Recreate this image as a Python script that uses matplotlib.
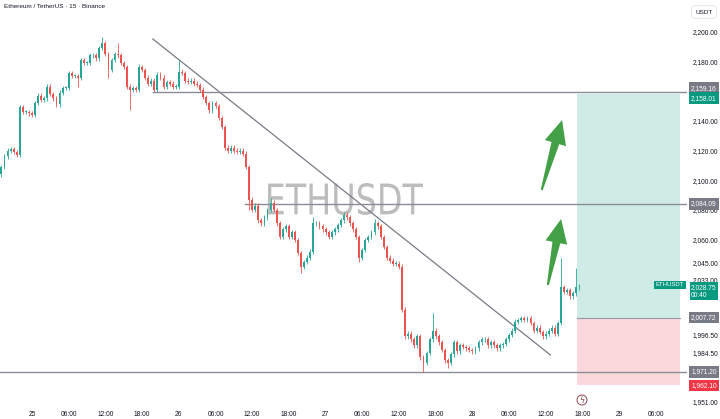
import numpy as np
import pandas as pd
import matplotlib
matplotlib.use("Agg")
import matplotlib.pyplot as plt
import matplotlib.dates as mdates
from matplotlib.patches import Polygon, Rectangle, PathPatch, Circle
from matplotlib.textpath import TextPath
from matplotlib.font_manager import FontProperties
from matplotlib.transforms import Affine2D, IdentityTransform, blended_transform_factory

# 30 minute closes (ETHUSDT)
closes = [
    2109, 2116, 2120, 2121, 2119, 2117, 2149, 2146, 2146, 2145,
    2144, 2152, 2157, 2154, 2155, 2163, 2158, 2155, 2151, 2159,
    2162, 2162, 2172, 2170, 2170, 2169, 2181, 2179, 2179, 2184,
    2184, 2182, 2189, 2192, 2185, 2174, 2181, 2185, 2184, 2179,
    2176, 2163, 2161, 2162, 2161, 2176, 2174, 2169, 2165, 2167,
    2161, 2171, 2169, 2163, 2166, 2165, 2163, 2163, 2173, 2172,
    2167, 2166, 2167, 2165, 2164, 2161,
    2156, 2152, 2147, 2152, 2150, 2142, 2136, 2122, 2120, 2122,
    2120, 2119, 2120, 2118, 2109, 2087, 2080, 2083, 2073, 2071,
    2075, 2080, 2085, 2080, 2071, 2062, 2067, 2069, 2062, 2065,
    2060, 2051, 2042, 2045, 2048, 2052, 2071, 2071, 2069, 2067,
    2065, 2062, 2065, 2067, 2070, 2073, 2077, 2075, 2071, 2067,
    2062, 2048, 2053, 2060, 2062, 2065, 2071, 2069, 2062, 2055,
    2048, 2046, 2044, 2044, 2042,
    2013, 1995, 1997, 1993, 1989, 1995, 1981, 1977, 1984, 1993,
    1999, 1995, 1991, 1986, 1979, 1977, 1983, 1991, 1985, 1989,
    1988, 1987, 1986, 1985, 1987, 1991, 1993, 1993, 1989, 1991,
    1989, 1987, 1989, 1990, 1993, 1996, 1999, 2005, 2006, 2007.5,
    2006, 2007.5, 2004, 1999, 2001, 1998, 1995, 1997, 1999, 2001,
    1997, 2004, 2028, 2025, 2026, 2022, 2024, 2028, 2028.75,
]
first_open = 2104
start = pd.Timestamp("2023-11-24 19:00")

wick_high = {
    "2023-11-25 11:30": 2196, "2023-11-25 14:00": 2192, "2023-11-25 17:30": 2178,
    "2023-11-26 00:00": 2181, "2023-11-26 15:00": 2088, "2023-11-26 22:00": 2075,
    "2023-11-27 03:00": 2079, "2023-11-27 08:00": 2074, "2023-11-27 17:30": 2011,
    "2023-11-28 14:30": 2048, "2023-11-28 17:00": 2041,
}
wick_low = {
    "2023-11-25 07:30": 2163, "2023-11-25 12:30": 2169, "2023-11-25 16:00": 2147,
    "2023-11-26 11:30": 2080, "2023-11-26 20:00": 2038, "2023-11-27 05:30": 2045,
    "2023-11-27 16:00": 1971.2, "2023-11-27 20:00": 1974,
}

# drawings
trend_start = ("2023-11-25 19:45", 2195.0)
trend_end = ("2023-11-28 12:45", 1982.6)
levels = [("2023-11-25 19:45", 2159.16), ("2023-11-26 10:50", 2084.09), ("2023-11-24 18:00", 1971.20)]
pos_start, pos_end = "2023-11-28 17:05", "2023-11-29 10:00"
entry, take_profit, stop_loss = 2007.72, 2158.01, 1962.10
last_price = 2028.75
arrows = [(("2023-11-28 11:20", 2093.5), ("2023-11-28 14:40", 2140.5)),
          (("2023-11-28 12:20", 2029.6), ("2023-11-28 14:30", 2074.0))]

ytick_vals = [2200, 2180, 2140, 2120, 2100, 2080, 2060, 2045, 2033, 1996.5, 1984.5, 1951]
xtick_times = pd.date_range("2023-11-25", "2023-11-29 06:00", freq="6h")
xtick_labels = [t.strftime("%d").lstrip("0") if t.hour == 0 else t.strftime("%H:%M") for t in xtick_times]

UP, DOWN, GREY = "#26a69a", "#ef5350", "#787b86"
plt.rcParams["font.family"] = ["Liberation Sans", "DejaVu Sans"]

fig = plt.figure(figsize=(7.2, 4.19), dpi=100)
ax = fig.add_axes([0, 12 / 419, 687 / 720, 407 / 419])
for s in ax.spines.values():
    s.set_visible(False)

day0 = mdates.date2num(pd.Timestamp("2023-11-25"))
ax.set_xlim(day0 - 32 / 146.8, day0 + 655 / 146.8)
ax.set_ylim(1947.6, 2221.2)

# candles
times = pd.date_range(start, periods=len(closes), freq="30min")
x = mdates.date2num(times)
opens = [first_open] + closes[:-1]
for xi, t, o, c in zip(x, times, opens, closes):
    key = t.strftime("%Y-%m-%d %H:%M")
    col = UP if c >= o else DOWN
    hi = wick_high.get(key, max(o, c) + 1.5)
    lo = wick_low.get(key, min(o, c) - 1.5)
    ax.vlines(xi, lo, hi, color=col, lw=0.6, zorder=3)
    ax.bar(xi, max(abs(c - o), 0.5), bottom=min(o, c), width=0.6 / 48, color=col, lw=0, zorder=3)

# watermark
tp = TextPath((0, 0), "ETHUSDT", size=100, prop=FontProperties(family="DejaVu Sans"))
bb = tp.get_extents()
tr = Affine2D().translate(-bb.x0, -bb.y0).scale(155 / bb.width, 32 / bb.height).translate(268, 204)
ax.add_patch(PathPatch(tr.transform_path(tp), transform=IdentityTransform(), fc="#bdbdbd", lw=0, zorder=0.5))

# long position box
p0, p1 = mdates.date2num(pd.Timestamp(pos_start)), mdates.date2num(pd.Timestamp(pos_end))
ax.add_patch(Rectangle((p0, entry), p1 - p0, take_profit - entry, fc="#cfebe5", lw=0, zorder=1))
ax.add_patch(Rectangle((p0, stop_loss), p1 - p0, entry - stop_loss, fc="#fbd8db", lw=0, zorder=1))
ax.plot([p0, p1], [entry, entry], color="#9598a1", lw=0.8, zorder=2)

# trendline and levels
ax.plot(mdates.date2num([pd.Timestamp(trend_start[0]), pd.Timestamp(trend_end[0])]),
        [trend_start[1], trend_end[1]], color=GREY, lw=0.9, zorder=2)
for t0, lvl in levels:
    ax.plot([mdates.date2num(pd.Timestamp(t0)), ax.get_xlim()[1]], [lvl, lvl], color="#8a8d96", lw=1.0, zorder=2)

# green arrows
def draw_arrow(tail, tip):
    a = ax.transData.transform((mdates.date2num(pd.Timestamp(tail[0])), tail[1]))
    b = ax.transData.transform((mdates.date2num(pd.Timestamp(tip[0])), tip[1]))
    d = b - a
    u = d / np.hypot(*d)
    n = np.array([-u[1], u[0]])
    base = b - u * 24
    pts = [a + n * 1, base + n * 4, base + n * 11, b, base - n * 11, base - n * 4, a - n * 1]
    ax.add_patch(Polygon(pts, closed=True, transform=IdentityTransform(), fc="#43a047", lw=0, zorder=6))

for tail, tip in arrows:
    draw_arrow(tail, tip)

# axes ticks
ax.set_xticks(mdates.date2num(xtick_times))
ax.set_xticklabels(xtick_labels)
ax.tick_params(axis="x", length=0, pad=3, labelsize=4.8, labelcolor="#131722")
ax.yaxis.tick_right()
ax.set_yticks(ytick_vals)
ax.set_yticklabels([f"{v:,.2f}" for v in ytick_vals])
ax.tick_params(axis="y", length=0, pad=4, labelsize=4.8, labelcolor="#131722")

# price badges
btr = blended_transform_factory(ax.transAxes, ax.transData)
def badge(text, price, color, dy=0, pad=0.35):
    ax.annotate(text, xy=(1, price), xycoords=btr, xytext=(3, dy), textcoords="offset points",
                ha="left", va="center", fontsize=4.8, color="white", zorder=8, annotation_clip=False,
                linespacing=1.15, bbox=dict(boxstyle=f"square,pad={pad}", fc=color, ec="none"))

badge("2,159.16", 2159.16, "#787b86", dy=3)
badge("2,158.01", take_profit, "#089981", dy=-3)
badge("2,084.09", 2084.09, "#787b86")
badge("2,028.75\n00:40", last_price, "#089981", dy=-3.5, pad=0.25)
badge("2,007.72", entry, "#787b86")
badge("1,971.20", 1971.20, "#787b86")
badge("1,962.10", stop_loss, "#f23645")
ax.annotate("ETHUSDT", xy=(1, last_price), xycoords=btr, xytext=(-2, 1), textcoords="offset points",
            ha="right", va="center", fontsize=4.3, color="white", zorder=8,
            bbox=dict(boxstyle="square,pad=0.3", fc="#089981", ec="none"))

# event marker
ax.add_patch(Circle((582, 19), 5, transform=IdentityTransform(), fc="white", ec="#8a4b4f", lw=0.7, zorder=7))
fig.text(582 / 720, 19 / 419, "ϟ", ha="center", va="center", fontsize=5.5, color="#8a4b4f", family="DejaVu Sans")

fig.text(4 / 720, 1 - 6 / 419, "Ethereum / TetherUS · 15 · Binance", fontsize=4.6, va="center", color="#131722")
fig.text(704 / 720, 1 - 12 / 419, "USDT", ha="center", va="center", fontsize=4.6, color="#131722",
         bbox=dict(boxstyle="round,pad=0.6", fc="white", ec="#e0e3eb", lw=0.6))

fig.savefig("out.png", dpi=100)
